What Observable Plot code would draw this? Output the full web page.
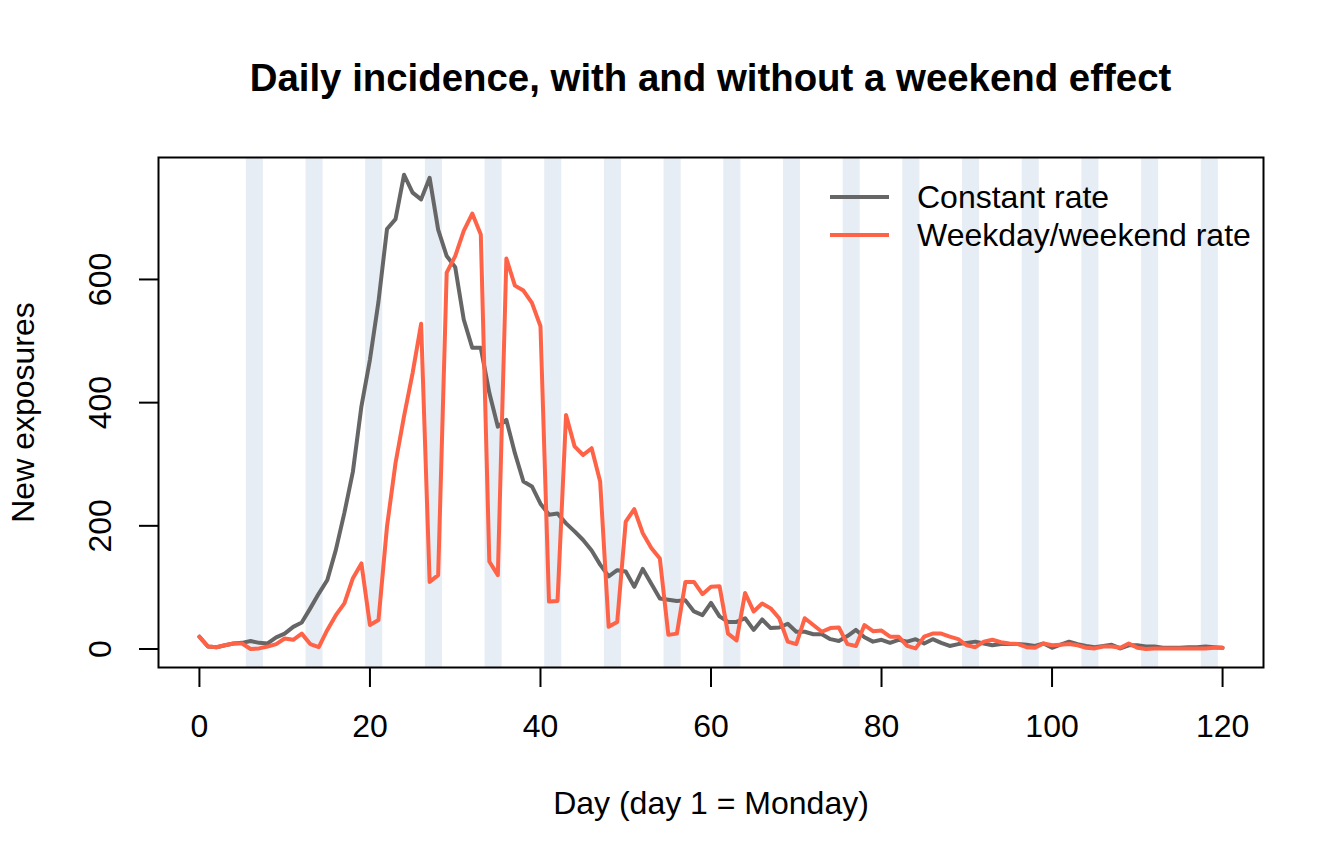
<!DOCTYPE html>
<html>
<head>
<meta charset="utf-8">
<script src="https://cdn.jsdelivr.net/npm/d3@7"></script>
<script src="https://cdn.jsdelivr.net/npm/@observablehq/plot@0.6"></script>
<style>
  body { margin: 0; background: #fff; font-family: "Liberation Sans", Arial, Helvetica, sans-serif; color: #000; }
  #wrap { position: relative; width: 1344px; height: 864px; overflow: hidden; }
  #title { box-sizing: border-box; width: 1344px; height: 120px; padding-top: 59px; padding-left: 77px;
           text-align: center; font-weight: bold; font-size: 38.4px; line-height: 38px; }
  .lg-row { position: absolute; left: 830px; height: 38px; font-size: 32px; line-height: 38px; white-space: nowrap; }
  .lg-line { position: absolute; left: 0; top: 17px; width: 59px; height: 4px; }
  .lg-text { position: absolute; left: 87px; top: 0; }
</style>
</head>
<body>
<div id="wrap">
  <div id="title">Daily incidence, with and without a weekend effect</div>
  <div id="chart"></div>
  <div id="legend"></div>
</div>
<script>
// ---- data ----
const days = [
  0,1,2,3,4,5,6,7,8,9,10,11,12,13,14,15,16,17,18,19,20,21,22,23,24,25,26,27,28,29,30,
  31,32,33,34,35,36,37,38,39,40,41,42,43,44,45,46,47,48,49,50,51,52,53,54,55,56,57,58,59,60,
  61,62,63,64,65,66,67,68,69,70,71,72,73,74,75,76,77,78,79,80,81,82,83,84,85,86,87,88,89,90,
  91,92,93,94,95,96,97,98,99,100,101,102,103,104,105,106,107,108,109,110,111,112,113,114,115,116,117,118,119,120
];
const constantRate = [
  20,4,3,6,9,10,13,10,9,19,25,36,43,66,90,112,161,221,288,394,470,
  564,682,698,770,741,730,765,681,638,620,535,489,489,416,361,372,318,272,264,236,
  218,220,204,191,177,160,137,118,128,126,101,130,106,82,80,78,79,61,55,75,
  53,44,44,50,31,48,34,35,41,28,28,24,24,16,13,21,31,19,12,15,
  10,15,12,16,9,16,10,5,8,10,12,9,6,8,8,8,7,5,9,2,
  7,12,8,5,3,5,7,1,6,6,4,4,2,2,2,3,3,4,3,2
];
const weekendRate = [
  20,4,3,6,9,9,0,1,4,8,17,15,25,8,3,31,55,74,115,139,39,
  47,199,302,378,448,528,109,120,611,638,679,707,673,142,120,634,590,582,562,524,
  77,78,380,329,315,326,272,36,44,207,227,188,164,147,23,25,109,109,89,101,
  102,25,14,91,61,74,66,50,12,8,50,39,28,34,35,8,5,39,29,30,
  20,20,5,1,20,25,25,20,16,6,3,12,15,11,9,8,3,2,9,6,
  7,8,6,2,1,4,4,2,9,2,0,1,1,1,1,1,1,1,2,2
];
// Saturdays (day 1 = Monday); each band covers Saturday and Sunday
const saturdays = [6,13,20,27,34,41,48,55,62,69,76,83,90,97,104,111,118];
const xTicks = [0,20,40,60,80,100,120];
const yTicks = [0,200,400,600];
const seriesNames = ["Constant rate", "Weekday/weekend rate"];
const seriesColors = ["#666666", "#FF6347"];

const table = days.map((d, i) => ({day: d, constant: constantRate[i], weekend: weekendRate[i]}));

const chart = Plot.plot({
  width: 1344,
  height: 744,
  marginTop: 37,
  marginBottom: 197,
  marginLeft: 158,
  marginRight: 81,
  style: {fontFamily: "Liberation Sans, Arial, Helvetica, sans-serif", fontSize: "32px", color: "black", background: "white", overflow: "visible"},
  x: {domain: [-4.8, 124.8]},
  y: {domain: [-30, 798]},
  marks: [
    Plot.rect(saturdays, {x1: d => d - 0.5, x2: d => d + 1.5, fill: "#e6edf5"}),
    Plot.line(table, {x: "day", y: "constant", stroke: seriesColors[0], strokeWidth: 4}),
    Plot.line(table, {x: "day", y: "weekend", stroke: seriesColors[1], strokeWidth: 4}),
    Plot.frame({stroke: "black", strokeWidth: 2}),
    Plot.axisX({ticks: xTicks, tickSize: 20, tickPadding: 27, strokeWidth: 2, label: null, tickFormat: d => String(d)}),
    Plot.axisY({ticks: yTicks, tickSize: 19, tickPadding: 29, tickRotate: -90, strokeWidth: 2, label: null, tickFormat: d => String(d)}),
    Plot.text(["Day (day 1 = Monday)"], {text: d => d, frameAnchor: "bottom", dy: 136, lineAnchor: "middle"}),
    Plot.text(["New exposures"], {text: d => d, frameAnchor: "left", dx: -125, rotate: -90, lineAnchor: "bottom", textAnchor: "middle"})
  ]
});
document.getElementById("chart").appendChild(chart);

// legend (inside the plot box, top right)
const legend = document.getElementById("legend");
seriesNames.forEach((name, i) => {
  const row = document.createElement("div");
  row.className = "lg-row";
  row.style.top = (178 + i * 38) + "px";
  const line = document.createElement("div");
  line.className = "lg-line";
  line.style.background = seriesColors[i];
  const txt = document.createElement("div");
  txt.className = "lg-text";
  txt.textContent = name;
  row.appendChild(line);
  row.appendChild(txt);
  legend.appendChild(row);
});
</script>
</body>
</html>
